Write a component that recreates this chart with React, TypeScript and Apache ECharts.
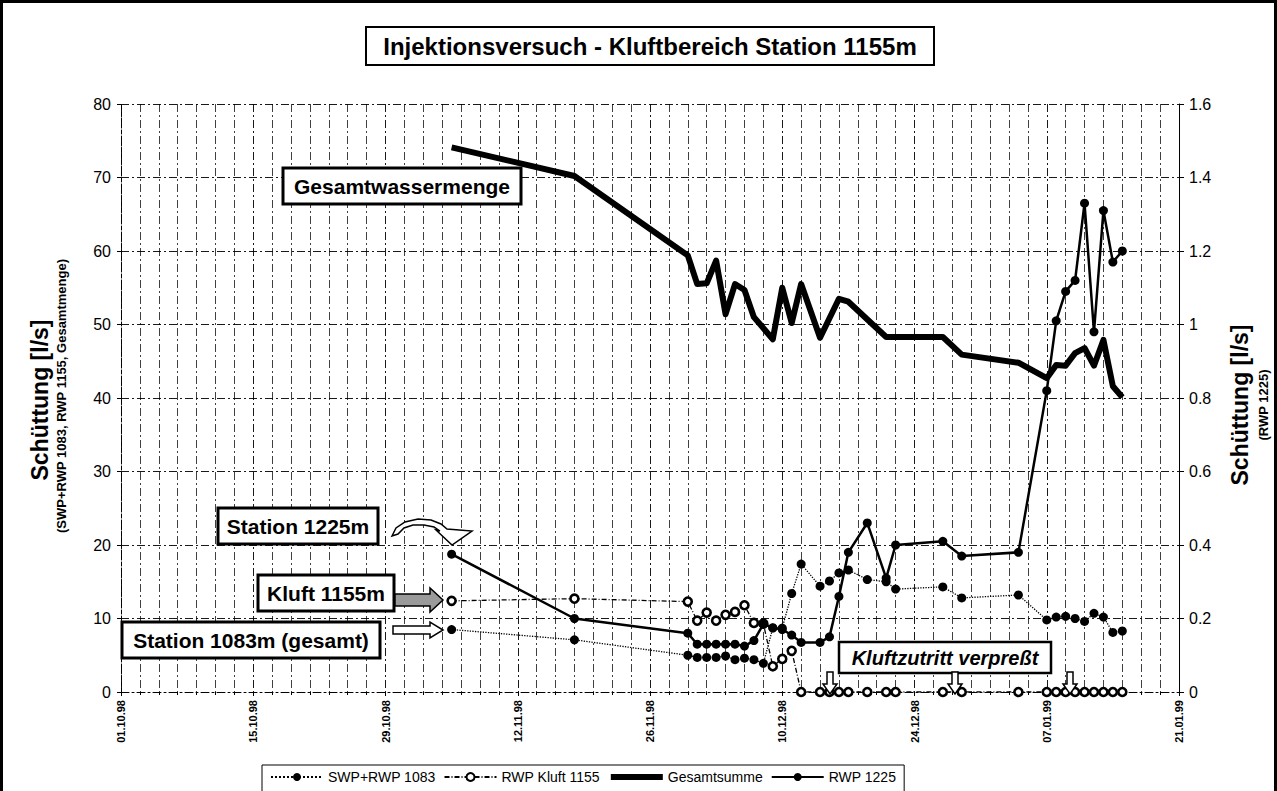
import React, { useEffect, useRef } from "react";
import * as echarts from "echarts";

// ---------- data ----------
const measureDates = [
  "1998-11-05", "1998-11-18", "1998-11-30",
  "1998-12-01", "1998-12-02", "1998-12-03", "1998-12-04", "1998-12-05", "1998-12-06",
  "1998-12-07", "1998-12-08", "1998-12-09", "1998-12-10", "1998-12-11", "1998-12-12",
  "1998-12-14", "1998-12-15", "1998-12-16", "1998-12-17", "1998-12-19", "1998-12-21",
  "1998-12-22", "1998-12-27", "1998-12-29", "1999-01-04",
  "1999-01-07", "1999-01-08", "1999-01-09", "1999-01-10", "1999-01-11", "1999-01-12",
  "1999-01-13", "1999-01-14", "1999-01-15",
];
const swp1083 = [
  8.5, 7.1, 5.0,
  4.7, 4.7, 4.7, 4.9, 4.4, 4.6,
  4.4, 3.9, 8.7, 8.7, 13.4, 17.4,
  14.4, 15.1, 16.2, 16.6, 15.3, 15.0,
  14.0, 14.3, 12.8, 13.2,
  9.8, 10.2, 10.3, 10.0, 9.6, 10.7,
  10.2, 8.1, 8.3,
];
const kluft1155 = [
  12.4, 12.7, 12.3,
  9.7, 10.8, 9.7, 10.5, 10.9, 11.8,
  9.4, 9.3, 3.5, 4.5, 5.6, 0,
  0, 0, 0, 0, 0, 0,
  0, 0, 0, 0,
  0, 0, 0, 0, 0, 0,
  0, 0, 0,
];
const rwp1225 = [
  0.375, 0.2, 0.16,
  0.13, 0.13, 0.13, 0.13, 0.13, 0.125,
  0.14, 0.185, 0.175, 0.17, 0.155, 0.135,
  0.135, 0.15, 0.26, 0.38, 0.46, 0.31,
  0.4, 0.41, 0.37, 0.38,
  0.82, 1.01, 1.09, 1.12, 1.33, 0.98,
  1.31, 1.17, 1.2,
];
const gesamtDates = [
  "1998-11-05", "1998-11-18", "1998-11-30",
  "1998-12-01", "1998-12-02", "1998-12-03", "1998-12-04", "1998-12-05", "1998-12-06",
  "1998-12-07", "1998-12-09", "1998-12-10", "1998-12-11", "1998-12-12",
  "1998-12-14", "1998-12-16", "1998-12-17", "1998-12-21", "1998-12-27", "1998-12-29",
  "1999-01-04", "1999-01-07", "1999-01-08", "1999-01-09", "1999-01-10", "1999-01-11",
  "1999-01-12", "1999-01-13", "1999-01-14", "1999-01-15",
];
const gesamtsumme = [
  74.1, 70.2, 59.4,
  55.5, 55.6, 58.7, 51.4, 55.5, 54.7,
  51.0, 48.0, 55.0, 50.2, 55.5,
  48.2, 53.5, 53.1, 48.3, 48.3, 45.9,
  44.8, 42.7, 44.5, 44.4, 46.1, 46.8,
  44.4, 47.9, 41.6, 40.1,
];
const seriesNames = ["SWP+RWP 1083", "RWP Kluft 1155", "Gesamtsumme", "RWP 1225"];
const axisStart = "1998-10-01";
const axisEnd = "1999-01-21";
const leftTicks = { min: 0, max: 80, step: 10 };
const rightTicks = { min: 0, max: 1.6, step: 0.2 };

// ---------- helpers ----------
const toUTC = (iso: string) => {
  const [y, m, d] = iso.split("-").map(Number);
  return Date.UTC(y, m - 1, d);
};
const START = toUTC(axisStart);
const DAY = 86400000;
const dayOf = (iso: string) => Math.round((toUTC(iso) - START) / DAY);
const fmtDay = (v: number) => {
  const d = new Date(START + v * DAY);
  const dd = String(d.getUTCDate()).padStart(2, "0");
  const mm = String(d.getUTCMonth() + 1).padStart(2, "0");
  const yy = String(d.getUTCFullYear()).slice(2);
  return `${dd}.${mm}.${yy}`;
};
const pairs = (dates: string[], vals: number[]) => dates.map((d, i) => [dayOf(d), vals[i]]);

const FONT = "'Liberation Sans', Arial, Helvetica, sans-serif";
const dashDot = [8, 3, 2, 3];

const boxText = (x: number, y: number, w: number, h: number, text: string, size: number, italic = false, lw = 3) => [
  { type: "rect", z: 100, shape: { x, y, width: w, height: h }, style: { fill: "#fff", stroke: "#000", lineWidth: lw } },
  {
    type: "text", z: 101, x: x + w / 2, y: y + h / 2,
    style: {
      text, fill: "#000", font: `${italic ? "italic " : ""}bold ${size}px ${FONT}`,
      align: "center", verticalAlign: "middle", textAlign: "center", textVerticalAlign: "middle",
    },
  },
];
const rotText = (x: number, y: number, text: string, size: number) => ({
  type: "text", z: 101, x, y, rotation: Math.PI / 2,
  style: {
    text, fill: "#000", font: `bold ${size}px ${FONT}`,
    align: "center", verticalAlign: "middle", textAlign: "center", textVerticalAlign: "middle",
  },
});
const downArrow = (x0: number) => ({
  type: "polygon", z: 100,
  shape: { points: [[x0 - 3, 672], [x0 + 3, 672], [x0 + 3, 684], [x0 + 7, 684], [x0, 694], [x0 - 7, 684], [x0 - 3, 684]] },
  style: { fill: "#fff", stroke: "#000", lineWidth: 1.5 },
});

export default function App() {
  const ref = useRef<HTMLDivElement>(null);
  useEffect(() => {
    if (!ref.current) return;
    const chart = echarts.init(ref.current, undefined, { renderer: "svg" });
    const xMax = dayOf(axisEnd);
    const option: any = {
      animation: false,
      backgroundColor: "#fff",
      textStyle: { fontFamily: FONT },
      grid: { left: 121, right: 98, top: 104, bottom: 99, containLabel: false },
      legend: {
        data: [
          { name: seriesNames[0] },
          { name: seriesNames[1] },
          { name: seriesNames[2], itemStyle: { opacity: 0 }, lineStyle: { width: 6, color: "#000" } },
          { name: seriesNames[3] },
        ],
        left: 262, top: 765,
        itemWidth: 52, itemHeight: 10, itemGap: 8,
        padding: [5, 8, 8, 8],
        borderColor: "#000", borderWidth: 1, backgroundColor: "#fff",
        textStyle: { fontSize: 14, color: "#000", fontFamily: FONT },
      },
      xAxis: {
        type: "value", min: 0, max: xMax, interval: 14,
        axisLine: { show: true, lineStyle: { color: "#000", width: 1, type: dashDot } },
        axisTick: { show: true, length: 4, lineStyle: { color: "#000" } },
        minorTick: { show: true, splitNumber: 7, length: 3, lineStyle: { color: "#000" } },
        axisLabel: { rotate: 90, formatter: (v: number) => fmtDay(v), fontSize: 11, fontWeight: "bold", color: "#000", margin: 8, fontFamily: FONT },
        splitLine: { show: true, lineStyle: { color: "#000", width: 1, type: dashDot, opacity: 0.9 } },
        minorSplitLine: { show: true, lineStyle: { color: "#000", width: 1, type: dashDot, opacity: 0.75 } },
      },
      yAxis: [
        {
          type: "value", min: leftTicks.min, max: leftTicks.max, interval: leftTicks.step, position: "left",
          axisLine: { show: true, lineStyle: { color: "#000", width: 1, type: "dashed" } },
          axisTick: { show: true, length: 4, lineStyle: { color: "#000" } },
          axisLabel: { fontSize: 16, color: "#000", margin: 10, fontFamily: FONT },
          splitLine: { show: true, lineStyle: { color: "#000", width: 1, type: dashDot, opacity: 0.9 } },
        },
        {
          type: "value", min: rightTicks.min, max: rightTicks.max, interval: rightTicks.step, position: "right",
          axisLine: { show: true, lineStyle: { color: "#000", width: 1 } },
          axisTick: { show: true, length: 5, lineStyle: { color: "#000" } },
          axisLabel: { fontSize: 16, color: "#000", margin: 10, fontFamily: FONT, formatter: (v: number) => String(Math.round(v * 10) / 10) },
          splitLine: { show: false },
        },
      ],
      series: [
        {
          name: seriesNames[0], type: "line", data: pairs(measureDates, swp1083),
          symbol: "circle", symbolSize: 9, z: 4,
          itemStyle: { color: "#000" },
          lineStyle: { color: "#000", width: 1.3, type: "dotted" },
        },
        {
          name: seriesNames[1], type: "line", data: pairs(measureDates, kluft1155),
          symbol: "circle", symbolSize: 8, z: 5,
          itemStyle: { color: "#fff", borderColor: "#000", borderWidth: 2.6 },
          lineStyle: { color: "#000", width: 1.3, type: [5, 2, 1, 2] },
        },
        {
          name: seriesNames[2], type: "line", data: pairs(gesamtDates, gesamtsumme),
          symbol: "none", z: 3,
          itemStyle: { color: "#000" },
          lineStyle: { color: "#000", width: 6, join: "round" },
        },
        {
          name: seriesNames[3], type: "line", yAxisIndex: 1, data: pairs(measureDates, rwp1225),
          symbol: "circle", symbolSize: 9, z: 6,
          itemStyle: { color: "#000" },
          lineStyle: { color: "#000", width: 2.5 },
        },
      ],
      graphic: [
        { type: "rect", z: 99, shape: { x: 1.5, y: 1.5, width: 1274, height: 800 }, style: { fill: "none", stroke: "#000", lineWidth: 3 } },
        ...boxText(366, 27, 568, 38, "Injektionsversuch - Kluftbereich Station 1155m", 24, false, 2),
        ...boxText(283, 168, 238, 36, "Gesamtwassermenge", 21),
        ...boxText(218, 508, 160, 36, "Station 1225m", 21),
        ...boxText(258, 575, 136, 36, "Kluft 1155m", 21),
        ...boxText(122, 622, 258, 36, "Station 1083m (gesamt)", 21),
        ...boxText(839, 642, 212, 31, "Kluftzutritt verpreßt", 20, true, 2.5),
        rotText(40, 400, "Schüttung [l/s]", 23),
        rotText(61, 396, "(SWP+RWP 1083, RWP 1155, Gesamtmenge)", 13),
        rotText(1240, 405, "Schüttung [l/s]", 23),
        rotText(1263, 405, "(RWP 1225)", 13),
        {
          type: "polygon", z: 100,
          shape: { points: [[395, 594], [430, 594], [430, 588], [443, 600], [430, 612], [430, 606], [395, 606]] },
          style: { fill: "#9a9a9a", stroke: "#000", lineWidth: 1.5 },
        },
        {
          type: "polygon", z: 100,
          shape: { points: [[393, 626], [430, 626], [430, 622], [443, 630], [430, 638], [430, 634], [393, 634]] },
          style: { fill: "#fff", stroke: "#000", lineWidth: 1.5 },
        },
        {
          type: "polygon", z: 100,
          shape: {
            points: [
              [392, 536], [396, 528], [405, 522], [418, 519], [431, 520], [441, 524], [447, 529],
              [472, 531], [452, 545], [436, 530], [440, 531], [434, 527], [424, 525], [413, 525],
              [404, 528], [398, 534],
            ],
          },
          style: { fill: "#fff", stroke: "#000", lineWidth: 1.5 },
        },
        downArrow(830),
        downArrow(955),
        downArrow(1070),
      ],
    };
    chart.setOption(option);
    return () => chart.dispose();
  }, []);
  return (
    <div
      ref={ref}
      style={{ position: "fixed", left: 0, top: 0, width: 1277, height: 791, background: "#fff" }}
    />
  );
}
